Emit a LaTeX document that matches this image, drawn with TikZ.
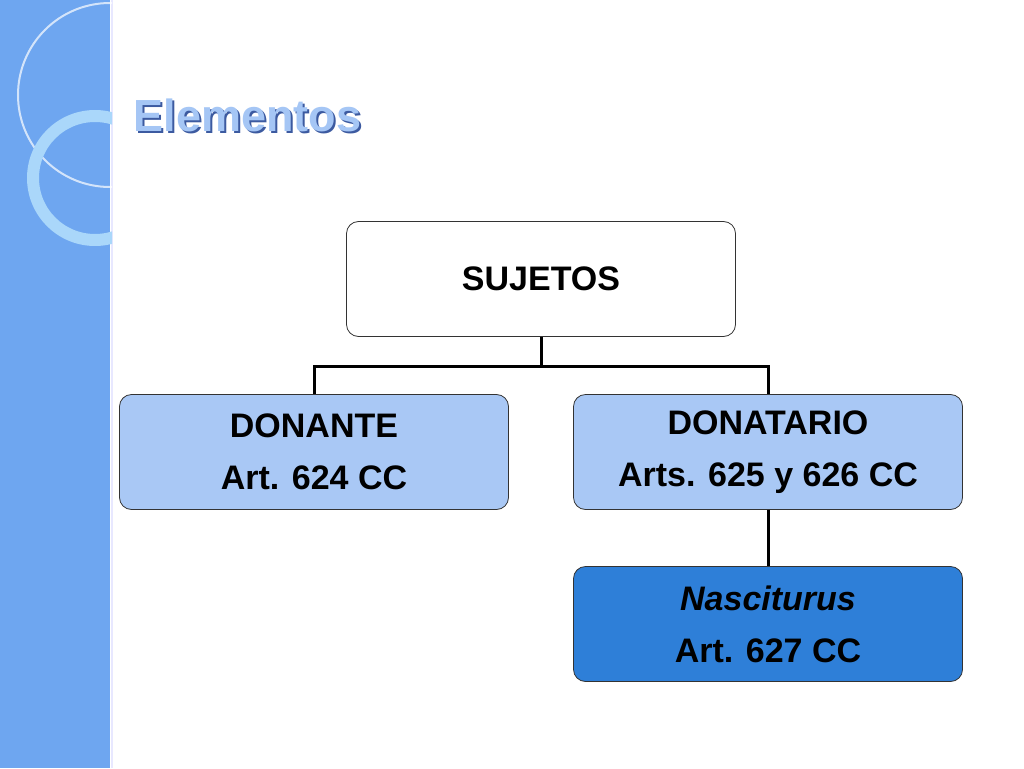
\documentclass[tikz,border=0pt]{standalone}
\usepackage{fontspec}
\setmainfont{Liberation Sans}
\begin{document}
\begin{tikzpicture}[x=1pt,y=-1pt,
 box/.style={draw=black!80,line width=0.8pt,rounded corners=12pt,minimum width=389pt,minimum height=115pt,align=center,font=\bfseries\fontsize{34}{52}\selectfont},
 conn/.style={line width=3pt}]
\useasboundingbox (0,0) rectangle (1024,768);
\fill[white] (0,0) rectangle (1024,768);
\fill[color={rgb,255:red,110;green,166;blue,240}] (0,0) rectangle (110,768);
\draw[white!70!blue!30!white,line width=1.5pt] (112,0) -- (112,768);
\begin{scope}
\clip (0,0) rectangle (112,768);
\draw[white,opacity=0.7,line width=2pt] (110,95) circle (92);
\draw[color={rgb,255:red,170;green,215;blue,250},line width=12pt] (95,178) circle (62);
\end{scope}
\node[font=\bfseries\fontsize{45}{48}\selectfont,text={rgb,255:red,165;green,198;blue,245},anchor=west,
  preaction={}] (t) at (130,116) {\rlap{\kern2pt\raisebox{-2pt}{\color[RGB]{60,90,160}Elementos}}Elementos};
\node[box,fill=white] (s) at (541,279) {SUJETOS};
\node[box,fill={rgb,255:red,169;green,200;blue,245}] (d) at (314,452) {DONANTE\\Art. 624 CC};
\node[box,fill={rgb,255:red,169;green,200;blue,245}] (r) at (768,452) {DONATARIO\\Arts. 625 y 626 CC};
\node[box,fill={rgb,255:red,46;green,127;blue,216}] (n) at (768,624) {\itshape Nasciturus\\Art. 627 CC};
\coordinate (m) at (541,366);
\draw[conn] (s.south) -- (m);
\draw[conn] (d.north) |- (m) -| (r.north);
\draw[conn] (r.south) -- (n.north);
\end{tikzpicture}
\end{document}
